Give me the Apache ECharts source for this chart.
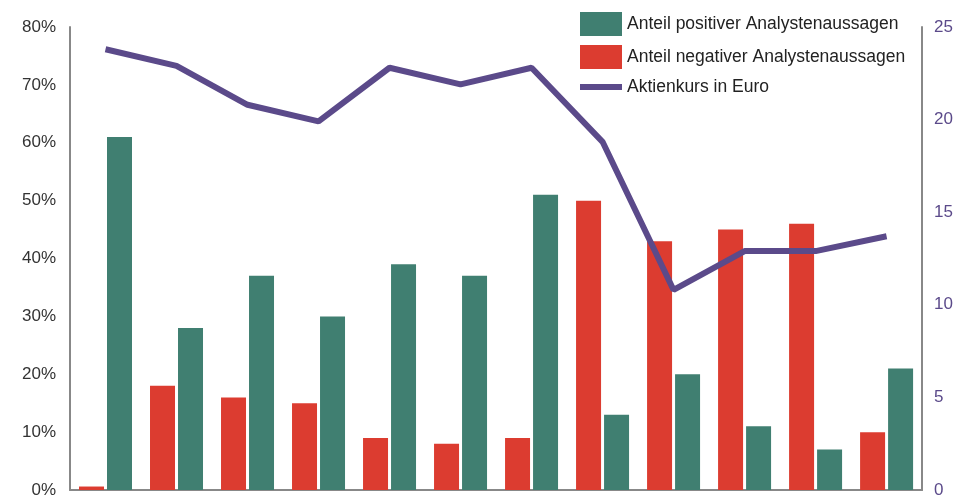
<!DOCTYPE html>
<html>
<head>
<meta charset="utf-8">
<script src="https://cdn.jsdelivr.net/npm/echarts@6/dist/echarts.min.js"></script>
<style>html,body{margin:0;padding:0;background:#fff}#c{width:956px;height:504px}</style>
</head>
<body>
<div id="c"></div>
<script>
const categories = ['1','2','3','4','5','6','7','8','9','10','11','12'];
const positive = [61, 28, 37, 30, 39, 37, 51, 13, 20, 11, 7, 21];
const negative = [0.6, 18, 16, 15, 9, 8, 9, 50, 43, 45, 46, 10];
const price = [23.8, 22.9, 20.8, 19.9, 22.8, 21.9, 22.8, 18.8, 10.8, 12.9, 12.9, 13.7];
const names = ['Anteil positiver Analystenaussagen', 'Anteil negativer Analystenaussagen', 'Aktienkurs in Euro'];

const font = 'Liberation Sans, Arial, Helvetica, sans-serif';
const chart = echarts.init(document.getElementById('c'), null, {renderer: 'canvas'});
chart.setOption({
  animation: false,
  textStyle: {fontFamily: font},
  grid: {left: 70, right: 33, top: 27, bottom: 14, containLabel: false},
  legend: {
    data: [
      {name: names[0], icon: 'rect'},
      {name: names[1], icon: 'rect'},
      {name: names[2], icon: 'path://M0,0H42V6H0Z', itemStyle: {color: '#5b4a8a'}, lineStyle: {width: 6, color: '#5b4a8a'}}
    ],
    orient: 'vertical',
    left: 575, top: 7,
    itemWidth: 42, itemHeight: 24, itemGap: 9,
    symbolKeepAspect: true,
    textStyle: {fontSize: 17.5, color: '#222', fontFamily: font}
  },
  xAxis: {
    type: 'category',
    data: categories,
    axisLine: {lineStyle: {color: '#888', width: 2}},
    axisTick: {show: false},
    axisLabel: {show: false}
  },
  yAxis: [
    {
      type: 'value', min: 0, max: 80, interval: 10,
      axisLine: {show: true, lineStyle: {color: '#888', width: 2}},
      axisTick: {show: false},
      splitLine: {show: false},
      axisLabel: {formatter: '{value}%', fontSize: 17, color: '#333', margin: 14, fontFamily: font}
    },
    {
      type: 'value', min: 0, max: 25, interval: 5,
      axisLine: {show: true, lineStyle: {color: '#888', width: 2}},
      axisTick: {show: false},
      splitLine: {show: false},
      axisLabel: {fontSize: 17, color: '#5b4a8a', margin: 12, fontFamily: font}
    }
  ],
  series: [
    {
      name: names[1], type: 'bar', data: negative, yAxisIndex: 0,
      barWidth: 25, barGap: '12%',
      itemStyle: {color: '#dc3c30'}
    },
    {
      name: names[0], type: 'bar', data: positive, yAxisIndex: 0,
      barWidth: 25, barGap: '12%',
      itemStyle: {color: '#407f71'}
    },
    {
      name: names[2], type: 'line', data: price, yAxisIndex: 1,
      symbol: 'none', showSymbol: false,
      lineStyle: {color: '#5b4a8a', width: 6},
      itemStyle: {color: '#5b4a8a'}
    }
  ]
});
</script>
</body>
</html>
